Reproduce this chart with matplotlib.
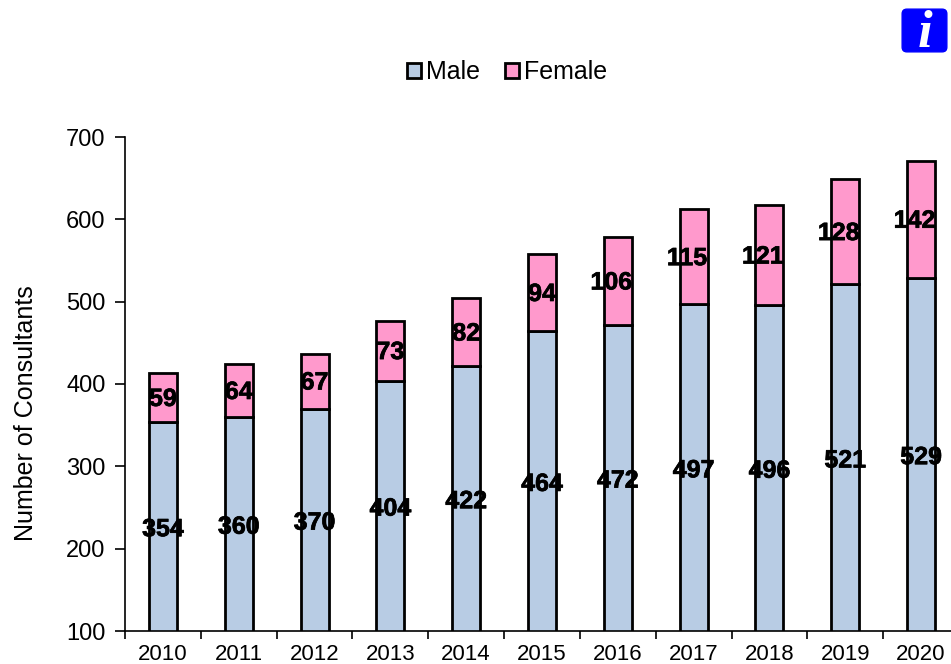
#!/usr/bin/env python3
import matplotlib
matplotlib.use('Agg')
import matplotlib.pyplot as plt
import matplotlib.patheffects as pe
from matplotlib.patches import FancyBboxPatch, Patch
import numpy as np

years = [2010, 2011, 2012, 2013, 2014, 2015, 2016, 2017, 2018, 2019, 2020]
male = [354, 360, 370, 404, 422, 464, 472, 497, 496, 521, 529]
female = [59, 64, 67, 73, 82, 94, 106, 115, 121, 128, 142]
yticks = [100, 200, 300, 400, 500, 600, 700]

plt.rcParams['font.family'] = ['Liberation Sans', 'DejaVu Sans']

W, H = 951, 664
fig = plt.figure(figsize=(W / 100, H / 100), dpi=100)
# plot area runs past the right edge of the picture, as in the original
ax = fig.add_axes([125 / W, (H - 631) / H, 834 / W, 494 / H])

x = np.arange(len(years))
male = np.array(male)
female = np.array(female)
ax.bar(x, male, 0.37, color='#b8cce4', edgecolor='black', linewidth=2)
ax.bar(x, female, 0.37, bottom=male, color='#ff99cc', edgecolor='black', linewidth=2)

ax.set_xlim(-0.5, len(years) - 0.5)
ax.set_ylim(100, 700)
ax.set_yticks(yticks)
ax.set_xticks(x)
ax.set_xticklabels(years)
ax.set_xticks(np.arange(len(years) + 1) - 0.5, minor=True)
ax.tick_params(axis='x', which='major', length=0, labelsize=16, pad=9)
ax.tick_params(axis='x', which='minor', length=6, width=1.2)
ax.tick_params(axis='y', length=7, width=1.2, labelsize=17, pad=7)
ax.spines['top'].set_visible(False)
ax.spines['right'].set_visible(False)
ax.spines['left'].set_linewidth(1.2)
ax.spines['bottom'].set_linewidth(1.2)
ax.set_ylabel('Number of Consultants', fontsize=18)
ax.yaxis.set_label_coords(-87 / 834, 0.441)

# labels sit in the middle of the visible part of each segment, thickened a bit
heavy = [pe.withStroke(linewidth=0.5, foreground='black')]
for i in range(len(years)):
    ax.annotate(str(male[i]), (x[i], (100 + male[i]) / 2), xytext=(0, -2),
                textcoords='offset points', ha='center', va='center',
                fontsize=18, fontweight='bold', color='black', path_effects=heavy)
    # three digit female labels are pushed left in the original
    dx = -4.7 if female[i] >= 100 else 0
    ax.annotate(str(female[i]), (x[i], male[i] + female[i] / 2), xytext=(dx, -1),
                textcoords='offset points', ha='center', va='center',
                fontsize=18, fontweight='bold', color='black', path_effects=heavy)

handles = [Patch(facecolor='#b8cce4', edgecolor='black', linewidth=2),
           Patch(facecolor='#ff99cc', edgecolor='black', linewidth=2)]
fig.legend(handles, ['Male', 'Female'], loc='center', bbox_to_anchor=(507 / W, 1 - 72 / H),
           ncol=2, frameon=False, fontsize=18, handlelength=0.55, handleheight=0.55,
           handletextpad=0.2, columnspacing=1.0)

# info icon, top right
icon = FancyBboxPatch((905 / W, 1 - 49 / H), 39 / W, 37 / H,
                      boxstyle='round,pad=0.003,rounding_size=0.005',
                      transform=fig.transFigure, facecolor='#0000ff', edgecolor='#0000ff',
                      mutation_aspect=W / H)
fig.add_artist(icon)
fig.text(925 / W, 1 - 34 / H, 'i', ha='center', va='center', color='white',
         fontsize=38, fontweight='bold', fontstyle='italic', family='Liberation Serif')

fig.savefig('out.png', dpi=100)
